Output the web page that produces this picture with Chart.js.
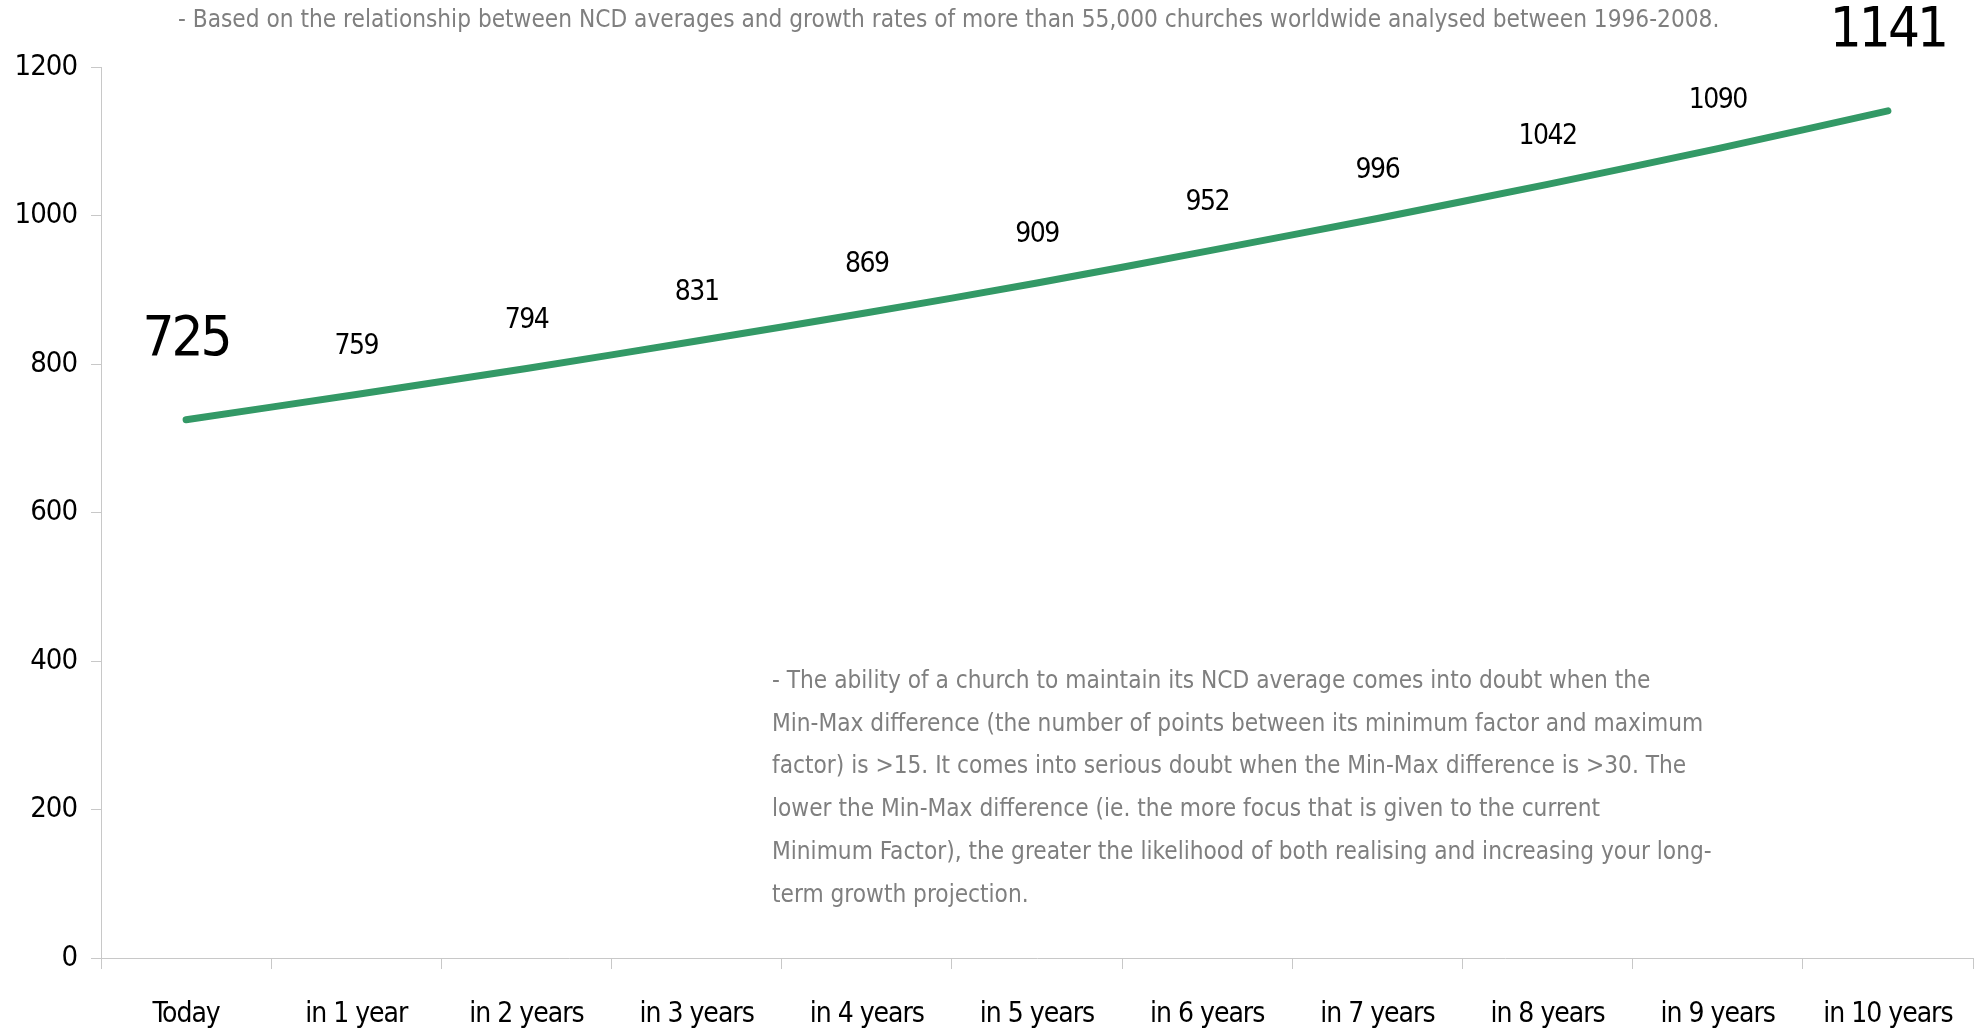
<!DOCTYPE html>
<html>
<head>
<meta charset="utf-8">
<script src="https://cdn.jsdelivr.net/npm/chart.js@4/dist/chart.umd.min.js"></script>
<style>
  html, body { margin: 0; padding: 0; background: #fff; }
  #wrap { position: relative; width: 1979px; height: 1029px; }
  .note {
    position: absolute;
    font-family: "Liberation Sans Narrow", "Arial Narrow", "DejaVu Sans Condensed", sans-serif;
    color: #7f7f7f;
    font-size: 24.2px;
    white-space: nowrap;
  }
  #topNote { left: 178px; top: 5px; line-height: 28px; }
  #bottomNote { left: 772px; top: 659px; line-height: 42.7px; }
</style>
</head>
<body>
<div id="wrap">
  <canvas id="growthChart" width="1979" height="1029"></canvas>
  <div class="note" id="topNote">- Based on the relationship between NCD averages and growth rates of more than 55,000 churches worldwide analysed between 1996-2008.</div>
  <div class="note" id="bottomNote">- The ability of a church to maintain its NCD average comes into doubt when the<br>Min-Max difference (the number of points between its minimum factor and maximum<br>factor) is &gt;15. It comes into serious doubt when the Min-Max difference is &gt;30. The<br>lower the Min-Max difference (ie. the more focus that is given to the current<br>Minimum Factor), the greater the likelihood of both realising and increasing your long-<br>term growth projection.</div>
</div>
<script>
const FONT = '"Liberation Sans Narrow", "Arial Narrow", "DejaVu Sans Condensed", sans-serif';

const labels = ["Today", "in 1 year", "in 2 years", "in 3 years", "in 4 years", "in 5 years",
  "in 6 years", "in 7 years", "in 8 years", "in 9 years", "in 10 years"];
const projection = [725, 759, 794, 831, 869, 909, 952, 996, 1042, 1090, 1141];
const yTicks = [0, 200, 400, 600, 800, 1000, 1200];

// tighter letters so the condensed font gets closer to the narrow original
const tightText = {
  id: "tightText",
  beforeDraw(chart) {
    chart.ctx.letterSpacing = "-1px";
  },
};

// value labels above each point, first and last drawn bigger
const valueLabels = {
  id: "valueLabels",
  afterDatasetsDraw(chart) {
    const ctx = chart.ctx;
    const pts = chart.getDatasetMeta(0).data;
    ctx.save();
    ctx.fillStyle = "#000";
    ctx.textAlign = "center";
    ctx.textBaseline = "middle";
    pts.forEach((p, i) => {
      const big = i === 0 || i === pts.length - 1;
      ctx.font = (big ? "56px " : "28px ") + FONT;
      ctx.letterSpacing = big ? "-3px" : "-1.5px";
      ctx.fillText(String(projection[i]), p.x, p.y - (big ? 79 : 48));
    });
    ctx.restore();
  },
};

function drawChart() {
  const ctx = document.getElementById("growthChart").getContext("2d");
  new Chart(ctx, {
    type: "line",
    data: {
      labels: labels,
      datasets: [
        {
          data: projection,
          borderColor: "#339966",
          borderWidth: 7,
          borderCapStyle: "round",
          pointRadius: 0,
          tension: 0.3,
          fill: false,
        },
      ],
    },
    options: {
      responsive: false,
      animation: false,
      layout: { padding: { top: 67, right: 6, left: 0, bottom: 0 } },
      plugins: {
        legend: { display: false },
        tooltip: { enabled: false },
      },
      scales: {
        x: {
          offset: true,
          grid: { drawOnChartArea: false, color: "#c8c8c8", tickLength: 11, offset: true },
          border: { color: "#c8c8c8", width: 1 },
          ticks: { color: "#000", font: { family: FONT, size: 28 }, padding: 29, maxRotation: 0, autoSkip: false },
          afterFit(s) {
            s.height = 71;
            s.paddingLeft = 0;
            s.paddingRight = 0;
          },
        },
        y: {
          min: 0,
          max: 1200,
          afterBuildTicks(s) { s.ticks = yTicks.map((v) => ({ value: v })); },
          grid: { drawOnChartArea: false, color: "#c8c8c8", tickLength: 10 },
          border: { color: "#c8c8c8", width: 1 },
          ticks: { color: "#000", font: { family: FONT, size: 29 }, padding: 14, callback: (v) => String(v) },
          afterFit(s) { s.width = 101; },
        },
      },
    },
    plugins: [tightText, valueLabels],
  });
}

Promise.all([
  document.fonts.load('30px "Liberation Sans Narrow"'),
  document.fonts.load('60px "Liberation Sans Narrow"'),
]).then(drawChart, drawChart);
</script>
</body>
</html>
